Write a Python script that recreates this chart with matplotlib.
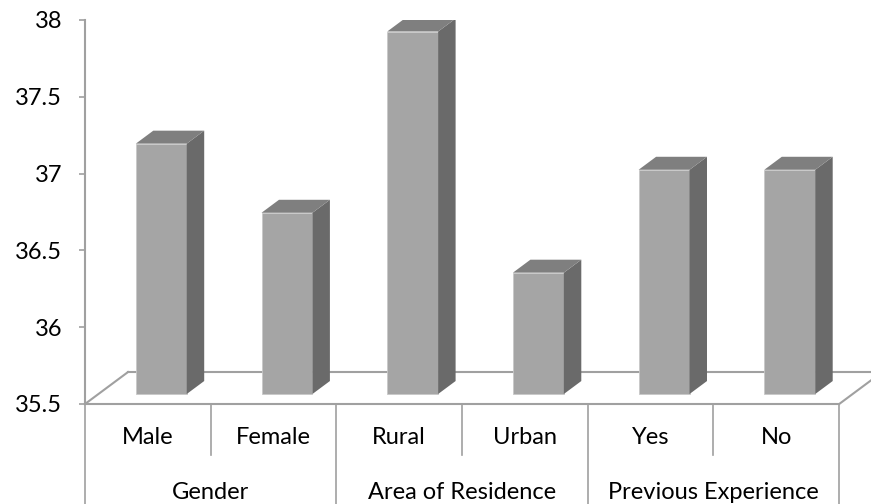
import numpy as np
import matplotlib.pyplot as plt
from matplotlib.patches import Polygon

plt.rcParams['font.family'] = ['Lato', 'DejaVu Sans']

# data
labels = ['Male', 'Female', 'Rural', 'Urban', 'Yes', 'No']
groups = ['Gender', 'Area of Residence', 'Previous Experience']
values = [37.13, 36.68, 37.86, 36.29, 36.96, 36.96]
base = 35.5

fig = plt.figure(figsize=(8.71, 5.04), dpi=100)
ax = fig.add_axes([85/871, 100/504, 786/871, 384/504])
ax.set_xlim(-0.5, 5.753)
ax.set_ylim(35.5, 38.0)

grey = '#a0a0a0'
# floor depth (oblique projection) in data units
fdx, fdy = 0.342, 0.208
# bar depth offset and bar depth
off = 10 / 32
bdx, bdy = fdx * 13 / 32, fdy * 13 / 32
w = 0.405
fs = 17

# floor outline
n = len(labels)
ax.plot([-0.5, n - 0.5], [base, base], color=grey, lw=1.5, clip_on=False, zorder=1)
ax.plot([-0.5, -0.5 + fdx], [base, base + fdy], color=grey, lw=1.5, clip_on=False, zorder=1)
ax.plot([-0.5 + fdx, n - 0.5 + fdx], [base + fdy, base + fdy], color=grey, lw=1.5, clip_on=False, zorder=1)
ax.plot([n - 0.5, n - 0.5 + fdx], [base, base + fdy], color=grey, lw=1.5, clip_on=False, zorder=1)

# bars: front face + side + top
for i, v in enumerate(values):
    x0 = i - w / 2 + fdx * off
    y0 = base + fdy * off
    h = v - base
    ax.bar(x0, h, width=w, bottom=y0, align='edge', color='#a5a5a5',
           edgecolor='#c8c8c8', lw=0.6, zorder=3)
    side = Polygon([[x0 + w, y0], [x0 + w + bdx, y0 + bdy],
                    [x0 + w + bdx, y0 + h + bdy], [x0 + w, y0 + h]],
                   closed=True, fc='#6a6a6a', ec='none', zorder=3)
    top = Polygon([[x0, y0 + h], [x0 + w, y0 + h],
                   [x0 + w + bdx, y0 + h + bdy], [x0 + bdx, y0 + h + bdy]],
                  closed=True, fc='#7f7f7f', ec='none', zorder=3)
    ax.add_patch(side)
    ax.add_patch(top)

# y axis
for s in ['top', 'right', 'bottom']:
    ax.spines[s].set_visible(False)
ax.spines['left'].set_color(grey)
ax.spines['left'].set_linewidth(1.5)
ax.set_yticks([35.5, 36, 36.5, 37, 37.5, 38])
ax.set_yticklabels(['35.5', '36', '36.5', '37', '37.5', '38'])
ax.tick_params(axis='y', direction='out', length=4.5, width=1.2, color=grey,
               labelsize=fs, pad=12)
ax.set_xticks([])

# category axis below the floor
y_short = 35.168
y_long = 34.849
for k in range(n + 1):
    yb = y_long if k % 2 == 0 else y_short
    ax.plot([k - 0.5, k - 0.5], [base, yb], color=grey, lw=1.2, clip_on=False)
for i, lab in enumerate(labels):
    ax.text(i, 35.279, lab, ha='center', va='center', fontsize=fs, clip_on=False)
for g, lab in enumerate(groups):
    ax.text(2 * g + 0.5, 34.927, lab, ha='center', va='center', fontsize=fs, clip_on=False)

fig.savefig('out.png', dpi=100)
